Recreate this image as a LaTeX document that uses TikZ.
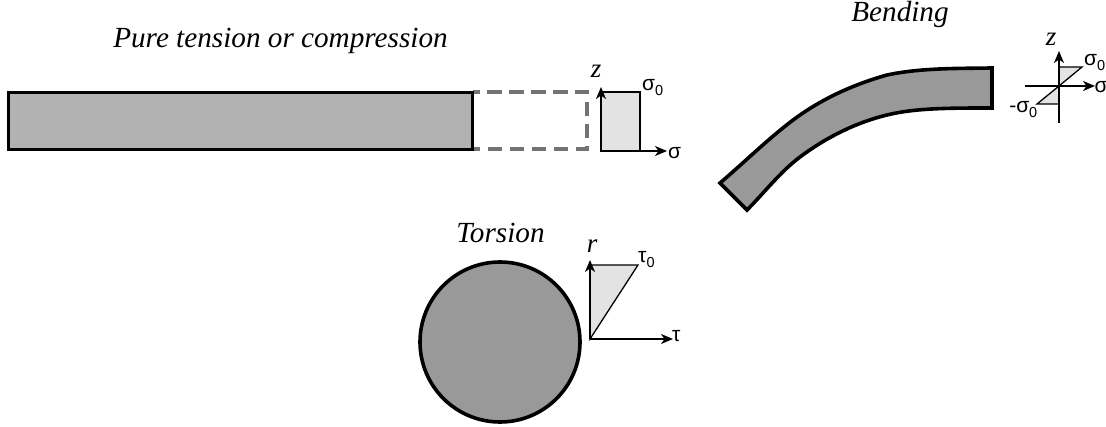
\documentclass[tikz,border=0pt]{standalone}
\usepackage{fontspec}
\setmainfont{Liberation Sans}
\newfontfamily\serifit[ItalicFont={Liberation Serif Italic}]{Liberation Serif}
\usetikzlibrary{arrows.meta}
\newcommand{\subzero}{\raisebox{-4.5pt}{\fontsize{14.5}{15}\selectfont 0}}
\tikzset{
  x=1pt,y=-1pt,
  body/.style={draw=black,line width=3.6pt,line join=miter},
  lightbody/.style={body,fill=black!30},
  darkbody/.style={body,fill=black!40},
  stress/.style={draw=black,line width=1.3pt,fill=black!11,line join=miter},
  axisline/.style={draw=black,line width=1.4pt,-{Stealth[length=12pt,width=10pt,inset=3.5pt]}},
  plainaxis/.style={draw=black,line width=1.4pt},
  ghost/.style={draw=black!55,line width=3.2pt,dash pattern=on 14.5pt off 7.5pt,dash phase=8pt},
  title/.style={inner sep=0pt,anchor=base,font=\serifit\itshape\fontsize{29.2}{32}\selectfont},
  axlabel/.style={inner sep=0pt,anchor=base,font=\serifit\itshape\fontsize{27}{30}\selectfont},
  val/.style={inner sep=0pt,anchor=base west,font=\fontsize{21}{25}\selectfont},
}
\begin{document}
\begin{tikzpicture}
\useasboundingbox (0,0) rectangle (1106,427);
% Pure tension
\node[title] (ttension) at (280.5,48) {Pure tension or compression};
\coordinate (dA) at (473,92);
\coordinate (dB) at (587,92);
\coordinate (dC) at (587,149);
\coordinate (dD) at (473,149);
\draw[ghost] (dA) -- (dB) -- (dC) -- (dD);
\node[lightbody,inner sep=0pt,minimum width=464pt,minimum height=57pt] (beam) at (240.5,121) {};
\coordinate (tO) at (601,151);
\coordinate (tZ) at (601,87);
\coordinate (tX) at (667,151);
\coordinate (tT) at (601,92);
\coordinate (tR) at (640,92);
\coordinate (tB) at (640,151);
\filldraw[stress] (tT) -- (tR) -- (tB) -- (tO) -- cycle;
\draw[axisline] (tO) -- (tZ);
\draw[axisline] (tO) -- (tX);
\node[axlabel] (lz1) at (596,78) {z};
\node[val] (ls1) at (642,91) {σ\subzero};
\node[val] (lx1) at (668,158.5) {σ};
% Bending
\node[title] (tbend) at (900,22) {Bending};
\path[darkbody]
  (720,183) .. controls (747,160) and (773,134) .. (800,115)
  .. controls (826,97) and (855,84) .. (887,75)
  .. controls (920,68) and (955,68.5) .. (992,68)
  -- (992,108)
  .. controls (950,108) and (915,108) .. (887,115)
  .. controls (858,122) and (828,136) .. (800,157)
  .. controls (780,172) and (765,192) .. (747,210)
  -- cycle;
\coordinate (bO) at (1059,86);
\coordinate (bZ) at (1059,51);
\coordinate (bZb) at (1059,123);
\coordinate (bXl) at (1025,86);
\coordinate (bX) at (1095,86);
\coordinate (bTl) at (1059,67);
\coordinate (bTr) at (1082,67);
\coordinate (bBl) at (1037,104);
\coordinate (bBr) at (1059,104);
\filldraw[stress] (bO) -- (bTr) -- (bTl) -- cycle;
\filldraw[stress] (bO) -- (bBl) -- (bBr) -- cycle;
\draw[plainaxis] (bZb) -- (bO);
\draw[axisline] (bO) -- (bZ);
\draw[axisline] (bXl) -- (bX);
\node[axlabel] (lz2) at (1051,46) {z};
\node[val] (ls2) at (1084,66) {σ\subzero};
\node[val] (lx2) at (1094.5,93) {σ};
\node[val,anchor=base east] (ls3) at (1037.5,113) {-σ\subzero};
% Torsion
\node[title] (ttorsion) at (500.5,243) {Torsion};
\node[body,circle,fill=black!40,minimum size=160pt,inner sep=0pt] (shaft) at (500,342) {};
\coordinate (rO) at (590,339);
\coordinate (rZ) at (590,260);
\coordinate (rX) at (673,339);
\coordinate (rT) at (590,265);
\coordinate (rR) at (638,265);
\filldraw[stress] (rO) -- (rR) -- (rT) -- cycle;
\draw[axisline] (rO) -- (rZ);
\draw[axisline] (rO) -- (rX);
\node[axlabel] (lr) at (592,253) {r};
\node[val] (lt0) at (638,263) {τ\subzero};
\node[val] (lt) at (672,342) {τ};
\end{tikzpicture}
\end{document}
